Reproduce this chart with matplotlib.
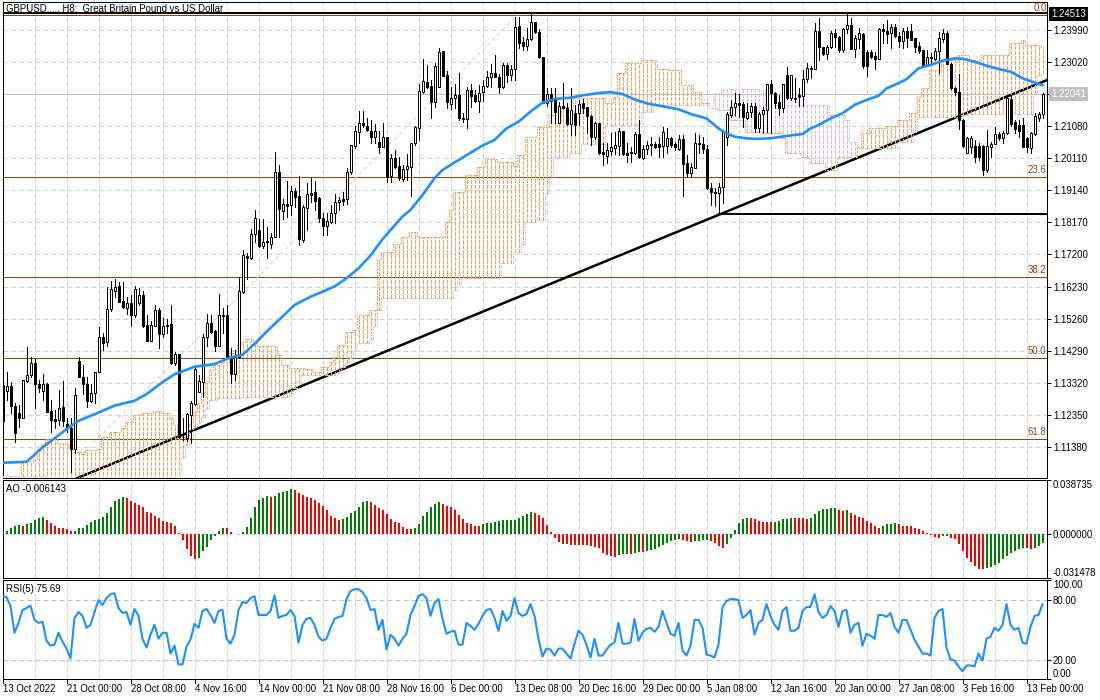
import numpy as np
import matplotlib
matplotlib.use("Agg")
import matplotlib.pyplot as plt

plt.rcParams['font.family'] = ['Liberation Sans', 'DejaVu Sans']

W, H = 1100, 700
FS = 6.9
PX = 0.72

# candles, price in 1/10000
open_pips = [
    11322,11304,11319,11259,11238,11223,11334,11352,11387,11325,
    11304,11325,11242,11218,11216,11254,11205,11192,11127,11394,
    11347,11324,11274,11296,11360,11466,11451,11551,11607,11622,
    11576,11554,11571,11535,11571,11594,11503,11456,11501,11549,
    11476,11504,11506,11387,11416,11165,11160,11231,11263,11301,
    11332,11466,11510,11486,11441,11533,11534,11410,11354,11405,
    11604,11713,11705,11778,11791,11744,11758,11748,11771,11967,
    11850,11870,11867,11909,11894,11761,11859,11903,11905,11887,
    11829,11804,11816,11842,11875,11885,11884,11968,12047,12089,
    12114,12106,12091,12074,12057,12044,12074,11955,12010,11986,
    11946,11975,11983,12054,12099,12210,12239,12227,12180,12225,
    12333,12261,12172,12190,12200,12131,12126,12215,12200,12183,
    12210,12228,12256,12266,12254,12223,12291,12262,12278,12409,
    12362,12350,12369,12420,12390,12314,12175,12202,12190,12116,
    12167,12162,12111,12145,12145,12175,12163,12138,12074,12116,
    12028,12016,12030,12041,12047,12091,12025,12027,12023,12082,
    12010,12036,12052,12051,12051,12047,12047,12071,12051,12037,
    12066,11993,11965,11980,12054,12051,12037,11917,11907,11902,
    11922,12074,12140,12165,12177,12173,12132,12150,12167,12099,
    12142,12155,12233,12205,12180,12162,12261,12190,12192,12200,
    12197,12248,12283,12278,12395,12345,12324,12345,12389,12377,
    12337,12399,12412,12340,12369,12384,12331,12331,12318,12308,
    12399,12395,12389,12407,12379,12365,12395,12395,12372,12349,
    12336,12291,12316,12308,12334,12369,12387,12294,12220,12210,
    12124,12025,12044,12046,12047,12046,11973,12044,12051,12081,
    12069,12084,12188,12117,12109,12109,12071,12041,12082,12129,
    12143]
close_pips = [
    11213,11319,11259,11175,11223,11337,11352,11387,11324,11314,
    11325,11241,11215,11213,11251,11214,11190,11127,11291,11345,
    11324,11274,11296,11362,11466,11450,11551,11613,11620,11574,
    11559,11571,11535,11612,11594,11500,11456,11502,11549,11476,
    11501,11500,11387,11416,11165,11163,11234,11266,11370,11334,
    11466,11508,11483,11441,11533,11531,11407,11355,11405,11606,
    11716,11705,11779,11829,11744,11754,11755,11771,11966,11855,
    11870,11865,11909,11892,11763,11860,11899,11898,11880,11829,
    11804,11819,11842,11875,11882,11880,11968,12049,12091,12114,
    12108,12094,12074,12090,12044,12074,11953,12010,11983,11948,
    11976,11985,12054,12102,12212,12243,12223,12180,12288,12331,
    12258,12180,12190,12200,12129,12126,12215,12198,12183,12207,
    12228,12256,12266,12256,12223,12291,12261,12278,12407,12359,
    12350,12369,12420,12390,12314,12175,12202,12183,12148,12167,
    12160,12111,12155,12109,12172,12160,12138,12072,12114,12025,
    12021,12033,12044,12049,12091,12021,12018,12023,12082,12011,
    12036,12049,12049,12042,12042,12089,12071,12049,12042,12066,
    11990,11963,11981,12054,12051,12037,11917,11907,11902,11922,
    12092,12142,12165,12175,12170,12135,12150,12167,12099,12142,
    12155,12233,12205,12177,12160,12233,12190,12261,12188,12195,
    12249,12281,12278,12394,12345,12324,12345,12389,12375,12337,
    12399,12412,12340,12372,12387,12289,12288,12316,12308,12399,
    12395,12385,12405,12379,12365,12394,12372,12367,12347,12334,
    12291,12316,12311,12334,12372,12387,12294,12220,12210,12124,
    12046,12069,12069,12013,12011,11973,12047,12052,12081,12069,
    12086,12190,12112,12096,12092,12044,12042,12084,12137,12142,
    12203]
high_pips = [
    11362,11362,11332,11266,11261,11337,11436,11407,11400,11337,
    11354,11327,11276,11246,11306,11334,11221,11223,11312,11407,
    11382,11347,11324,11362,11496,11480,11618,11638,11643,11635,
    11633,11589,11594,11623,11615,11607,11534,11516,11564,11554,
    11524,11521,11564,11423,11416,11221,11236,11273,11377,11352,
    11475,11537,11534,11488,11596,11556,11564,11433,11428,11650,
    11731,11723,11794,11852,11826,11826,11801,11781,12027,11988,
    11885,11940,11924,11917,11955,11867,11933,11950,11940,11892,
    11842,11842,11867,11899,11892,11905,11978,12049,12107,12152,
    12152,12129,12124,12112,12091,12114,12074,12020,12034,12013,
    11988,12021,12054,12106,12235,12308,12291,12246,12296,12342,
    12333,12273,12223,12235,12266,12145,12223,12232,12215,12230,
    12246,12273,12293,12321,12264,12296,12296,12291,12437,12435,
    12375,12402,12446,12420,12399,12314,12220,12220,12220,12180,
    12238,12175,12220,12170,12185,12187,12165,12140,12119,12116,
    12054,12054,12084,12089,12101,12091,12054,12044,12089,12124,
    12049,12062,12074,12059,12074,12104,12099,12074,12059,12079,
    12079,12018,11993,12084,12079,12074,12049,11933,11917,11933,
    12094,12150,12185,12205,12202,12180,12175,12175,12175,12150,
    12165,12235,12246,12210,12200,12235,12286,12261,12251,12220,
    12276,12296,12288,12417,12432,12347,12352,12395,12399,12379,
    12402,12446,12432,12382,12402,12387,12336,12336,12331,12402,
    12415,12427,12414,12415,12392,12402,12405,12415,12372,12362,
    12336,12336,12328,12342,12392,12399,12395,12296,12225,12264,
    12126,12074,12076,12064,12054,12049,12094,12059,12104,12089,
    12092,12200,12200,12124,12124,12129,12074,12089,12145,12150,
    12205]
low_pips = [
    11211,11276,11236,11148,11195,11221,11332,11347,11253,11301,
    11276,11241,11180,11190,11200,11197,11180,11057,11115,11345,
    11294,11254,11271,11266,11360,11428,11440,11547,11589,11572,
    11554,11537,11501,11529,11564,11498,11456,11455,11500,11435,
    11468,11478,11384,11382,11160,11155,11153,11145,11261,11301,
    11286,11440,11478,11425,11441,11478,11405,11327,11337,11402,
    11599,11642,11703,11756,11739,11736,11707,11736,11769,11771,
    11826,11832,11837,11862,11746,11756,11791,11877,11852,11816,
    11776,11776,11813,11813,11852,11867,11870,11961,12039,12054,
    12104,12091,12054,12054,12023,12044,11938,11938,11978,11943,
    11941,11943,11895,12049,12064,12205,12220,12131,12163,12223,
    12258,12160,12158,12160,12124,12119,12101,12165,12180,12150,
    12183,12225,12223,12254,12207,12222,12241,12246,12246,12342,
    12337,12337,12367,12387,12311,12175,12167,12114,12114,12114,
    12160,12109,12079,12079,12109,12145,12084,12049,12066,12021,
    11988,11993,12018,12021,12018,12018,11998,11998,12021,12008,
    12005,12021,12018,12039,12013,12013,12023,12044,12034,12034,
    11895,11953,11951,11978,12023,12023,11915,11867,11864,11842,
    11872,12049,12135,12140,12135,12104,12126,12135,12089,12089,
    12084,12089,12084,12160,12140,12150,12187,12185,12180,12167,
    12167,12241,12251,12278,12306,12321,12308,12342,12347,12331,
    12331,12387,12339,12316,12342,12281,12258,12311,12278,12308,
    12357,12357,12342,12377,12347,12342,12345,12367,12331,12328,
    12291,12291,12291,12306,12268,12362,12294,12217,12200,12096,
    12044,12023,12023,11998,12003,11958,11968,12013,12051,12064,
    12054,12081,12106,12084,12074,12044,12028,12025,12079,12122,
    12129]

# moving average, read every few bars
ma_bars = [0,6,8,10,13,16,19,24,28,33,36,40,43,48,53,57,60,63,66,70,73,77,83,86,89,
           92,95,97,100,102,105,108,110,114,117,120,123,126,129,132,135,138,142,145,149,
           152,155,158,161,165,169,172,176,179,181,183,186,188,192,196,200,202,204,207,210,
           213,216,219,221,224,226,229,232,235,238,240,243,246,249,252,255,258,260]
ma_pips = [11086,11089,11110,11133,11160,11188,11213,11238,11259,11274,11294,11330,11354,11377,11385,
           11405,11413,11446,11483,11529,11564,11589,11620,11645,11675,11714,11763,11791,11832,11852,
           11897,11948,11973,12003,12025,12047,12064,12099,12119,12150,12177,12188,12192,12199,12206,
           12209,12203,12187,12175,12166,12157,12143,12129,12099,12084,12074,12069,12067,12069,12076,
           12082,12099,12109,12129,12145,12170,12185,12198,12220,12236,12248,12281,12291,12304,12311,
           12310,12301,12289,12279,12271,12251,12238,12230]

# ichimoku spans, each value holds until the next listed bar
span_a_bars = [0,5,8,9,10,11,13,14,16,17,18,20,21,24,25,27,30,31,33,35,38,40,42,43,44,46,47,48,49,50,
               51,52,53,55,57,58,59,60,61,63,64,69,70,72,76,78,80,82,83,84,86,88,89,92,94,95,98,100,102,104,
               111,112,113,116,119,121,124,128,129,131,134,137,140,143,151,153,154,156,160,164,167,170,173,175,177,179,
               182,186,191,195,196,200,202,206,209,214,215,217,221,224,227,229,230,232,235,239,242,245,252,255,256,260]
span_a = [11020,11090,11095,11125,11140,11157,11160,11145,11143,11130,11120,11113,11125,11127,11165,11178,11191,11211,11231,11236,
          11244,11236,11221,11201,11160,11170,11211,11241,11266,11296,11332,11367,11382,11392,11418,11428,11443,11453,11460,11450,
          11440,11413,11382,11372,11369,11362,11377,11392,11407,11443,11483,11488,11534,11549,11700,11725,11750,11771,11786,11771,
          11816,11851,11907,11958,11983,12006,11998,11985,12018,12074,12104,12139,12165,12190,12177,12195,12266,12296,12306,12278,
          12276,12230,12210,12175,12160,12155,12124,12089,12084,12069,12023,12013,11993,11973,12013,12044,12084,12099,12106,12124,
          12145,12195,12220,12276,12306,12321,12306,12321,12357,12367,12352,12347]
span_b_bars = [0,11,44,45,46,47,48,49,50,51,52,54,60,64,71,72,73,74,75,84,85,86,87,88,89,92,93,94,95,113,
               114,115,125,128,130,131,134,136,137,138,142,145,151,159,160,163,177,178,180,190,191,207,211,212,214,224,228,229,240,242,
               258,259,260]
span_b = [11047,11020,11049,11100,11140,11160,11196,11206,11226,11250,11276,11281,11284,11286,11284,11296,11312,11332,11352,11357,
          11377,11387,11402,11428,11448,11458,11500,11550,11584,11609,11628,11647,11690,11725,11750,11816,11821,11902,11950,12013,
          12023,12053,12109,12114,12149,12170,12160,12205,12217,12215,12170,12140,12124,12059,12039,12059,12089,12135,12140,12143,
          12205,12261,12266]

# drawn objects on the price panel
fib_levels = [12443, 11951, 11648, 11402, 11157]
fib_names = ['0.0', '23.6', '38.2', '50.0', '61.8']
bid_pips = 12202
top_hline = 12449
low_hline = 11840
trend_bars = [18.75, 261.25]
trend_pips = [11040, 12246]
fibline_bars = [20.25, 128.75]
fibline_pips = [11115, 12443]

price_ticks = [12396,12299,12202,12105,12008,11911,11814,11717,11620,11523,11426,11329,11232,11135]
price_labels = ['1.23990','1.23020','','1.21080','1.20110','1.19140','1.18170','1.17200',
                '1.16230','1.15260','1.14290','1.13320','1.12350','1.11380']

# awesome oscillator, in 1/1000
ao_milli = [
    1.5,2.4,4.6,6.2,6.5,6.2,7.0,8.4,10.1,11.3,
    12.2,10.1,7.9,5.8,4.8,4.3,3.8,2.2,2.3,4.6,
    4.8,6.5,8.9,10.1,10.8,12.2,15.4,19.7,23.8,25.2,
    26.4,25.7,24.0,22.1,20.9,19.2,16.1,14.9,13.0,11.3,
    9.4,8.9,8.4,5.8,1.2,-4.3,-10.8,-15.8,-18.0,-16.8,
    -12.0,-9.1,-4.3,-1.2,2.2,4.4,4.3,1.4,0.2,0.3,
    1.4,5.0,12.0,19.4,24.7,26.2,27.4,26.9,27.8,29.3,
    30.0,30.7,32.4,31.9,29.8,28.3,26.4,25.7,24.7,22.3,
    20.4,17.3,13.4,11.3,10.1,10.8,12.2,14.9,16.8,19.4,
    22.8,24.0,23.3,21.1,19.0,17.5,14.4,10.8,9.1,8.2,
    5.3,3.6,3.5,4.6,7.2,13.2,15.8,19.2,21.6,22.8,
    21.6,20.4,19.2,17.3,13.9,10.8,8.4,7.4,6.2,6.0,
    7.0,7.9,8.2,9.1,9.8,10.1,10.2,10.3,10.4,11.8,
    13.4,14.4,15.6,15.5,13.7,11.5,6.7,1.9,-2.4,-5.3,
    -6.7,-7.4,-7.7,-7.7,-7.8,-7.9,-8.0,-8.4,-9.1,-10.1,
    -13.4,-14.9,-15.6,-16.1,-14.9,-14.4,-13.9,-14.2,-13.2,-12.5,
    -12.6,-12.0,-11.3,-10.3,-9.1,-7.9,-6.5,-4.8,-4.1,-3.4,
    -4.1,-4.8,-5.5,-5.0,-4.8,-4.3,-4.1,-4.8,-6.0,-8.4,
    -9.6,-6.7,-2.4,2.9,7.9,11.0,11.5,11.4,10.6,9.4,
    8.9,8.6,8.5,9.1,9.6,10.6,11.0,12.0,11.5,11.4,
    11.3,11.2,12.0,14.4,16.8,18.0,18.2,18.7,19.0,17.3,
    16.8,17.3,15.4,13.7,12.7,12.0,9.6,7.7,6.0,4.8,
    6.0,7.0,7.4,8.4,7.4,6.2,6.0,5.9,4.6,3.6,
    2.2,0.7,-0.5,-1.7,-2.4,-1.4,-1.3,-2.4,-3.8,-6.7,
    -12.0,-16.8,-19.9,-22.8,-25.0,-25.1,-24.2,-23.8,-22.1,-20.4,
    -18.0,-15.6,-13.7,-12.0,-10.8,-9.6,-9.7,-10.6,-10.1,-8.4,
    -6.143]

rsi_vals = [
    84,83,74,47,57,70,72,74.5,60,57,
    58,39,34,35,47,38,31,21,62,68,
    64,52,55,68,80,75,82,86,87,72,
    67,68,55,71,64,41,32,45,55,41,
    47,47,26,34,15,15,33,40,56,52,
    69,71,65,57,69,70,41,36,45,70,
    78,77,82,84,65,65,65,69,85,62,
    64,65,70,64,37,55,61,62,55,43,
    39,41,52,61,63,64,81,89,91,91,
    88,82,70,71,50,60,30,45,41,34,
    41,46,65,74,84,86,82,64,77,81,
    61,46,48,49,35,35,57,54,50,56,
    64,70,71,62,49,69,59,64,82,67,
    64,66,76,64,41,23,31,30,24,31,
    31,26,21,36,49,45,35,22,41,24,
    24,30,35,37,57,36,36,37,61,39,
    47,51,52,48,53,69,57,46,44,57,
    29,24,34,60,60,52,25,24,22,35,
    73,79,81,81,80,62,65,70,45,57,
    60,76,64,55,50,69,73,49,49,52,
    69,73,73,86,68,62,65,74,69,53,
    69,70,47,55,57,34,46,44,41,65,
    65,63,67,53,47,60,60,50,40,33,
    26,26,24,62,69,71,32,20,19,13,
    8,14,14,13,26,19,41,43,52,49,
    55,76,55,50,52,37,36,53,64,65,
    75.69]

date_labels = ['13 Oct 2022','21 Oct 00:00','28 Oct 08:00','4 Nov 16:00','14 Nov 00:00','21 Nov 08:00',
               '28 Nov 16:00','6 Dec 00:00','13 Dec 08:00','20 Dec 16:00','29 Dec 00:00','5 Jan 08:00',
               '12 Jan 16:00','20 Jan 00:00','27 Jan 08:00','3 Feb 16:00','13 Feb 00:00']


def px_axes(left, top, right, bottom):
    return fig.add_axes([left/W, 1-bottom/H, (right-left)/W, (bottom-top)/H])


def px_text(x, y, s, **kw):
    fig.text(x/W, 1-y/H, s, fontsize=FS, va='center', **kw)


def hold(bars, vals, n):
    idx = np.searchsorted(bars, np.arange(n), side='right') - 1
    return np.array(vals)[idx]


fig = plt.figure(figsize=(W/100, H/100), dpi=100, facecolor='white')
ax = px_axes(2.7, 2.3, 1047.3, 478.3)
ao_ax = px_axes(2.7, 480.3, 1047.3, 578)
rsi_ax = px_axes(2.7, 580.3, 1047.3, 679.3)

o = np.array(open_pips)/1e4
c = np.array(close_pips)/1e4
h = np.array(high_pips)/1e4
l = np.array(low_pips)/1e4
n = len(o)
bars = np.arange(n)
grid_bars = np.arange(8, 260, 8)

for a in (ax, ao_ax, rsi_ax):
    a.set_xticks(grid_bars)
    a.set_xlim(0.05, 261.2)
    a.tick_params(axis='x', length=0, labelbottom=False)
    a.grid(True, axis='x', color='#D3D3D3', lw=PX, ls=(0, (5, 3)), zorder=0)
    a.set_axisbelow(True)
    a.yaxis.tick_right()
    a.tick_params(axis='y', length=3.2, width=PX, pad=0.8, labelsize=FS)
    for s in a.spines.values():
        s.set_linewidth(PX)
        s.set_color('black')

# price panel
ax.set_yticks(np.array(price_ticks)/1e4)
ax.set_yticklabels(price_labels)
ax.set_ylim(11039/1e4, 12481/1e4)
ax.grid(True, axis='y', color='#D3D3D3', lw=PX, ls=(0, (5, 3)), zorder=0)

ax.axhline(bid_pips/1e4, color='#C0C0C0', lw=PX, zorder=1)
for lv, nm in zip(fib_levels, fib_names):
    ax.axhline(lv/1e4, color='#8B4513', lw=PX, zorder=1)
    ax.annotate(nm, (261.0, lv/1e4), xytext=(0, 1.6), textcoords='offset points',
                ha='right', va='bottom', fontsize=FS, color='#8B4513', zorder=8)
ax.plot(fibline_bars, np.array(fibline_pips)/1e4, color='#D3D3D3', lw=PX, ls=(0, (4, 3)), zorder=1)
ax.plot(trend_bars, np.array(trend_pips)/1e4, color='black', lw=1.8, zorder=2)
ax.plot([0, 261.2], [top_hline/1e4]*2, color='black', lw=1.44, zorder=3)
ax.plot([179, 261.2], [low_hline/1e4]*2, color='black', lw=1.44, zorder=3)

a_full = hold(span_a_bars, span_a, n)/1e4
b_full = hold(span_b_bars, span_b, n)/1e4
cloud_cols = ['#F4A460' if sa >= sb else '#D8BFD8' for sa, sb in zip(a_full, b_full)]
ax.vlines(bars, b_full, a_full, colors=cloud_cols, lw=PX, linestyles=(0, (3, 2)), zorder=4, antialiased=False)
ax.step(bars, a_full, where='mid', color='#F4A460', lw=PX, ls=(0, (2, 2)), zorder=4, antialiased=False)
ax.step(bars, b_full, where='mid', color='#D8BFD8', lw=PX, ls=(0, (2, 2)), zorder=4, antialiased=False)

ax.vlines(bars, l, h, colors='black', lw=PX, zorder=5, antialiased=False)
body_cols = ['white' if cc >= oo else 'black' for oo, cc in zip(o, c)]
ax.bar(bars, np.abs(c-o), bottom=np.minimum(o, c), width=0.5, color=body_cols,
       edgecolor='black', linewidth=PX, zorder=6)

ax.plot(ma_bars, np.array(ma_pips)/1e4, color='#1E90FF', lw=1.9, zorder=7)

box_x = 1.0 + 3.6/1044.6
ax.text(box_x, 12446/1e4, '1.24513', transform=ax.get_yaxis_transform(), color='white', fontsize=FS,
        va='center', ha='left', bbox=dict(facecolor='black', edgecolor='none', pad=1.4), zorder=9, clip_on=False)
ax.text(box_x, bid_pips/1e4, '1.22041', transform=ax.get_yaxis_transform(), color='white', fontsize=FS,
        va='center', ha='left', bbox=dict(facecolor='#C0C0C0', edgecolor='none', pad=1.4), zorder=9, clip_on=False)
px_text(6.5, 8.8, 'GBPUSD...., H8:  Great Britain Pound vs US Dollar', color='black', zorder=0)

# awesome oscillator
ao = np.array(ao_milli)/1000
ao_cols = ['#008000' if i == 0 or ao[i] > ao[i-1] else '#FF0000' for i in range(len(ao))]
ao_ax.bar(np.arange(len(ao)), ao, width=0.5, color=ao_cols, linewidth=0, zorder=3)
ao_ax.set_yticks([0.038735, 0.0, -0.031478])
ao_ax.set_yticklabels(['0.038735', '0.000000', '-0.031478'])
ao_ax.set_ylim(-0.031478, 0.038735)
ao_ax.get_yticklabels()[0].set_va('top')
ao_ax.get_yticklabels()[2].set_va('bottom')
ao_ax.axhline(0, color='#D3D3D3', lw=PX, ls=(0, (5, 3)), zorder=1)
px_text(6, 489.5, 'AO -0.006143', color='black')

# rsi
rsi_ax.plot(np.arange(len(rsi_vals)), rsi_vals, color='#1E90FF', lw=1.5, zorder=3)
rsi_ax.axhline(80, color='#C0C0C0', lw=PX, ls=(0, (5, 3)), zorder=1)
rsi_ax.axhline(20, color='#C0C0C0', lw=PX, ls=(0, (5, 3)), zorder=1)
rsi_ax.set_yticks([100, 80, 20, 0])
rsi_ax.set_yticklabels(['100.00', '80.00', '20.00', '0.00'])
rsi_ax.set_ylim(0, 100)
rsi_ax.get_yticklabels()[0].set_va('top')
rsi_ax.get_yticklabels()[3].set_va('bottom')
px_text(6, 589.5, 'RSI(5) %.2f' % rsi_vals[-1], color='black')

# date axis
for i, lab in enumerate(date_labels):
    xb = max(i*16, 0.05)
    rsi_ax.plot([xb, xb], [0, -4.1], color='black', lw=PX, clip_on=False, zorder=3)
    px_text(2.7 + i*64, 688.5, lab, color='black', ha='left')

fig.savefig('out.png', dpi=100)
